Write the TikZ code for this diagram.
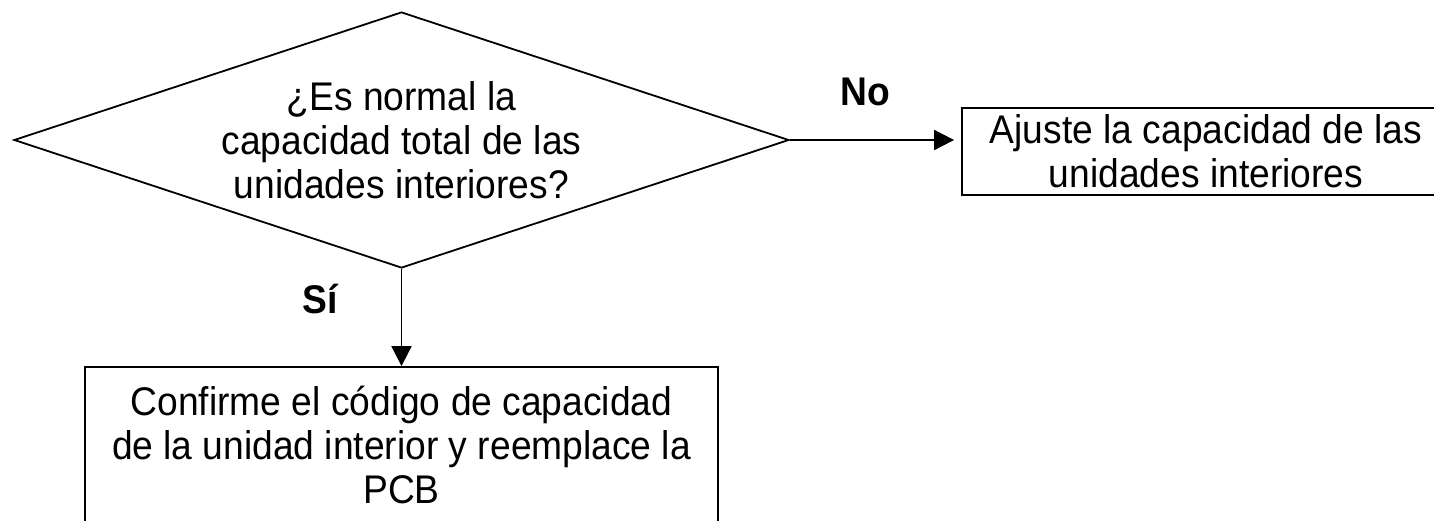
\documentclass[tikz,border=0pt]{standalone}
\usepackage{fontspec}
\setmainfont[FakeStretch=0.93]{Liberation Sans}
\usetikzlibrary{shapes.geometric,arrows.meta}
\begin{document}
\begin{tikzpicture}[x=1pt,y=-1pt,
  every node/.style={font=\fontsize{40}{44}\selectfont},
  decision/.style={diamond,draw=black,line width=1.8pt,aspect=3.03,minimum width=775pt,minimum height=256pt,inner sep=0pt,align=center},
  procbox/.style={rectangle,draw=black,line width=1.8pt,inner sep=0pt,align=center},
  flow/.style={draw=black,line width=1.8pt,-{Triangle[length=20pt,width=20pt]}},
  answer/.style={font=\fontsize{40}{44}\selectfont\bfseries,anchor=base,inner sep=0pt}]
\useasboundingbox (0,0) rectangle (1434,520);
\node[decision] (d) at (401.5,140) {¿Es normal la\\capacidad total de las\\unidades interiores?};
\node[procbox,minimum width=488pt,minimum height=87pt] (r) at (1206,151.5) {Ajuste la capacidad de las\\unidades interiores};
\node[procbox,minimum width=633pt,minimum height=156pt] (b) at (401.5,445) {Confirme el código de capacidad\\de la unidad interior y reemplace la\\PCB};
\draw[flow,shorten >=7pt] (d.east) -- (d.east -| r.west);
\draw[flow] (d.south) -- (b.north);
\node[answer] (no) at (865.5,105) {No};
\node[answer] (si) at (320,313) {Sí};
\end{tikzpicture}
\end{document}
